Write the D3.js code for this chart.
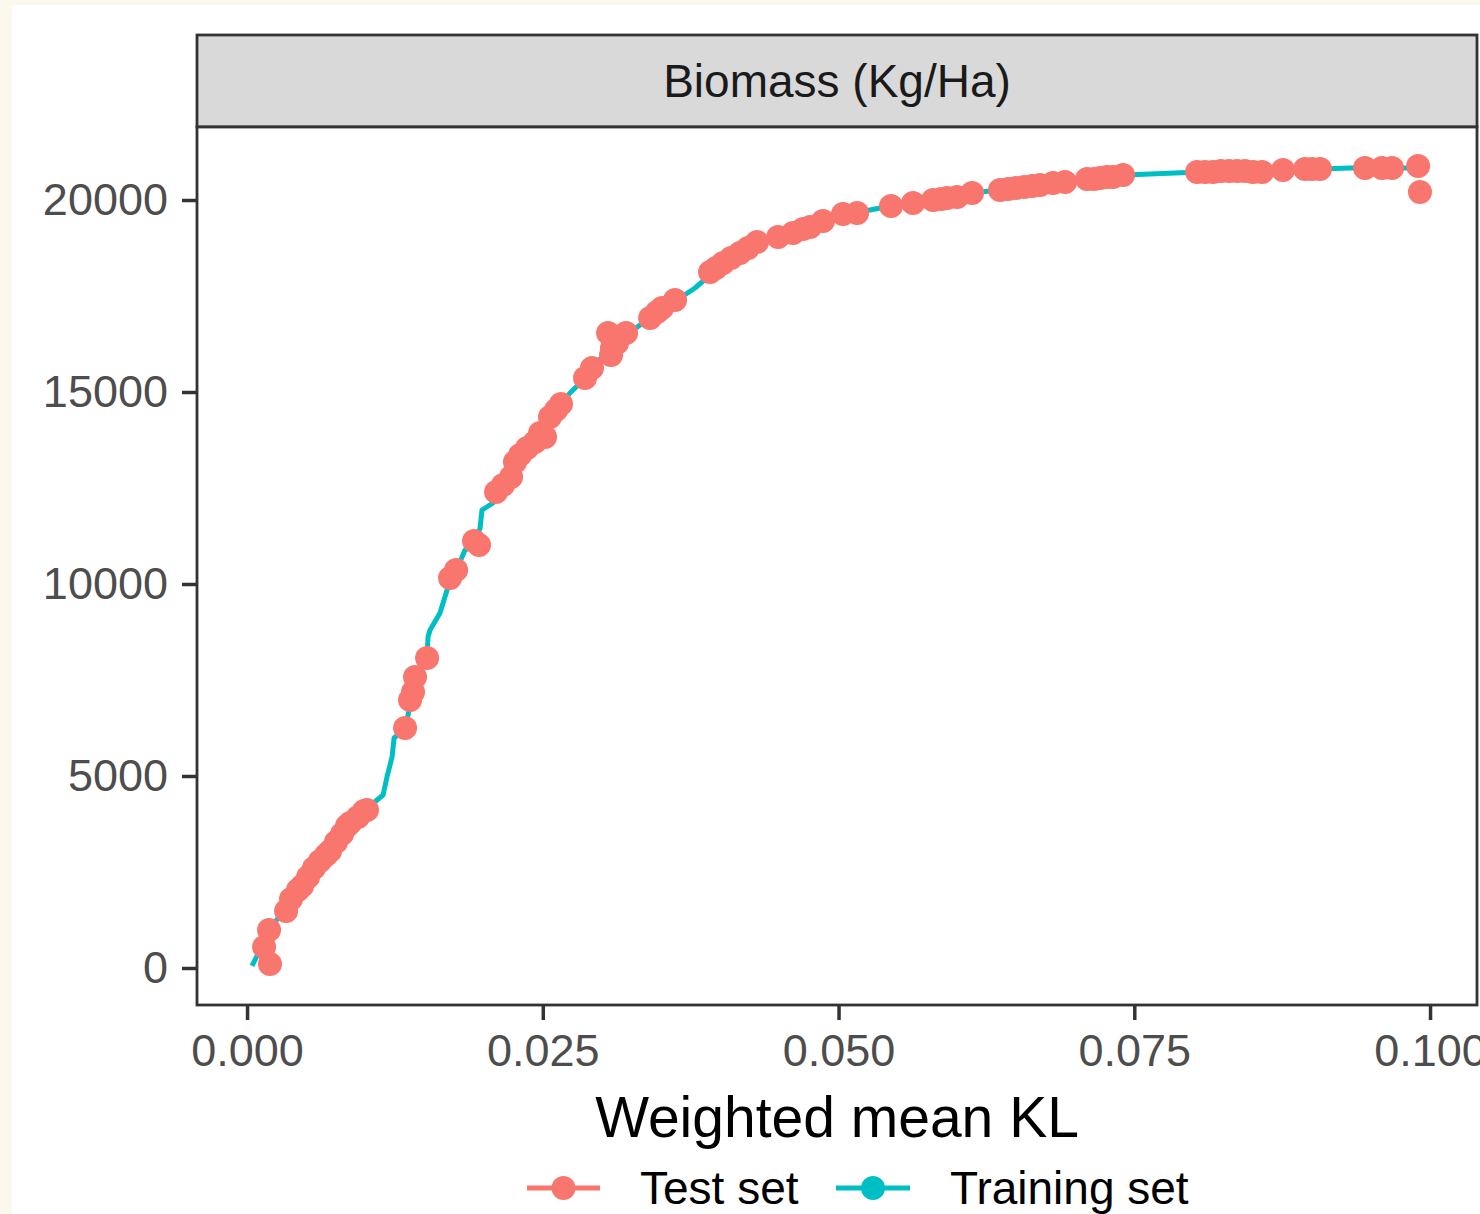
<!DOCTYPE html>
<html>
<head>
<meta charset="utf-8">
<script src="https://cdn.jsdelivr.net/npm/d3@7"></script>
<style>
  html, body { margin: 0; padding: 0; background: #FBF8EE; }
  svg { display: block; }
</style>
</head>
<body>
<script>
// ---------------- DATA ----------------
const panelTitle = "Biomass (Kg/Ha)";
const xTitle = "Weighted mean KL";
const seriesNames = ["Test set", "Training set"];
const xTicks = [0, 0.025, 0.05, 0.075, 0.1];
const yTicks = [0, 5000, 10000, 15000, 20000];

// Training set (line)
const trainX = [0.00042,0.00076,0.00127,0.00178,0.00237,0.00296,0.00363,0.00448,0.00533,0.00617,0.00702,0.00786,0.00871,0.00955,0.01040,0.01099,0.01150,0.01183,0.01226,0.01243,0.01293,0.01344,0.01378,0.01412,0.01462,0.01522,0.01530,0.01547,0.01631,0.01657,0.01691,0.01733,0.01784,0.01843,0.01919,0.01970,0.01986,0.02079,0.02139,0.02223,0.02308,0.02392,0.02477,0.02561,0.02646,0.02730,0.02815,0.02899,0.02984,0.03085,0.03195,0.03322,0.03423,0.03533,0.03660,0.03787,0.03914,0.04041,0.04167,0.04311,0.04463,0.04615,0.04759,0.04886,0.05055,0.05182,0.05309,0.05444,0.05630,0.05816,0.06002,0.06129,0.06281,0.06450,0.06619,0.06788,0.06957,0.07126,0.07295,0.07422,0.07633,0.07844,0.08056,0.08309,0.08563,0.08817,0.09070,0.09324,0.09577,0.09789,0.09899];
const trainY = [52,260,573,859,1198,1432,1719,2057,2396,2734,3073,3411,3750,4010,4219,4375,4505,4974,5495,5990,6120,6328,6849,7370,7760,8151,8620,8802,9245,9505,9844,10260,10469,10885,11015,11458,11927,12109,12448,12760,13229,13568,13932,14323,14661,14974,15234,15573,15859,16094,16458,16745,16927,17187,17448,17708,18047,18333,18594,18880,19036,19167,19297,19453,19635,19687,19766,19844,19922,20026,20078,20182,20234,20312,20364,20443,20495,20547,20599,20651,20677,20703,20729,20755,20781,20807,20807,20833,20833,20833,20859];

// Test set (points)
const testX = [0.00144,0.00194,0.00186,0.00330,0.00372,0.00431,0.00465,0.00516,0.00566,0.00617,0.00668,0.00702,0.00752,0.00803,0.00845,0.00871,0.00938,0.00989,0.01014,
  0.01336,0.01378,0.01403,0.01420,0.01522,0.01716,0.01767,0.01919,0.01961,0.02105,0.02164,0.02232,0.02265,0.02308,0.02367,0.02434,0.02477,0.02519,0.02561,0.02612,0.02654,
  0.02857,0.02916,0.03077,0.03128,0.03052,0.03204,0.03085,0.03407,0.03466,0.03508,0.03618,
  0.03914,0.03964,0.04024,0.04091,0.04167,0.04235,0.04311,0.04489,0.04615,0.04700,0.04759,0.04869,0.05038,0.05157,
  0.05444,0.05630,0.05799,0.05867,0.05917,0.06002,0.06129,0.06365,0.06433,0.06500,0.06568,0.06636,0.06703,0.06813,0.06915,
  0.07101,0.07160,0.07211,0.07270,0.07320,0.07405,
  0.08031,0.08098,0.08166,0.08233,0.08301,0.08369,0.08436,0.08504,0.08580,0.08757,0.08943,0.09003,0.09070,0.09450,0.09594,0.09679,0.09899,0.09915];
const testY = [547,104,990,1484,1797,2031,2135,2370,2604,2786,2943,3047,3281,3490,3698,3776,3932,4088,4115,
  6250,6979,7187,7578,8073,10156,10365,11120,11015,12396,12578,12786,13177,13359,13542,13698,13932,13828,14349,14531,14688,
  15365,15625,15963,16276,16536,16536,16146,16927,17083,17187,17396,
  18125,18229,18359,18490,18620,18750,18906,19036,19141,19245,19297,19453,19635,19661,
  19844,19922,20000,20026,20052,20078,20182,20260,20286,20312,20338,20364,20390,20443,20468,
  20547,20547,20573,20599,20599,20651,
  20729,20729,20729,20755,20755,20755,20755,20729,20729,20781,20807,20807,20807,20833,20833,20833,20885,20208];

const colors = {"Test set": "#F8766D", "Training set": "#00BFC4"};

// ---------------- LAYOUT ----------------
const W = 1480, H = 1214;
const panel = {left: 197, right: 1477, top: 127, bottom: 1005};
const strip = {top: 35, bottom: 127};

const svg = d3.select("body").append("svg").attr("width", W).attr("height", H);

// background
svg.append("rect").attr("x", 0).attr("y", 0).attr("width", W).attr("height", H).attr("fill", "#FBF8EE");
svg.append("rect").attr("x", 12).attr("y", 5).attr("width", W - 12).attr("height", H - 5).attr("fill", "#FFFFFF");

const x = d3.scaleLinear().domain([-0.00423, 0.10397]).range([panel.left, panel.right]);
const y = d3.scaleLinear().domain([-964, 21901]).range([panel.bottom, panel.top]);

const font = "'Liberation Sans', Arial, Helvetica, sans-serif";

// strip
svg.append("rect")
  .attr("x", panel.left).attr("y", strip.top)
  .attr("width", panel.right - panel.left).attr("height", strip.bottom - strip.top)
  .attr("fill", "#D9D9D9").attr("stroke", "#333333").attr("stroke-width", 2.8);
svg.append("text")
  .attr("x", (panel.left + panel.right) / 2).attr("y", (strip.top + strip.bottom) / 2)
  .attr("dy", "0.35em").attr("text-anchor", "middle")
  .attr("font-family", font).attr("font-size", 46).attr("fill", "#1A1A1A")
  .text(panelTitle);

// panel background
svg.append("rect")
  .attr("x", panel.left).attr("y", panel.top)
  .attr("width", panel.right - panel.left).attr("height", panel.bottom - panel.top)
  .attr("fill", "#FFFFFF");

// clip
svg.append("clipPath").attr("id", "clip").append("rect")
  .attr("x", panel.left).attr("y", panel.top)
  .attr("width", panel.right - panel.left).attr("height", panel.bottom - panel.top);

const g = svg.append("g").attr("clip-path", "url(#clip)");

// training line
const trainData = trainX.map((v, i) => ({x: v, y: trainY[i]}));
g.append("path")
  .datum(trainData)
  .attr("fill", "none")
  .attr("stroke", colors["Training set"])
  .attr("stroke-width", 5)
  .attr("stroke-linejoin", "round")
  .attr("d", d3.line().x(d => x(d.x)).y(d => y(d.y)));

// test points
const testData = testX.map((v, i) => ({x: v, y: testY[i]}));
g.selectAll("circle.test")
  .data(testData).enter().append("circle")
  .attr("class", "test")
  .attr("cx", d => x(d.x)).attr("cy", d => y(d.y))
  .attr("r", 12)
  .attr("fill", colors["Test set"]);

// panel border
svg.append("rect")
  .attr("x", panel.left).attr("y", panel.top)
  .attr("width", panel.right - panel.left).attr("height", panel.bottom - panel.top)
  .attr("fill", "none").attr("stroke", "#333333").attr("stroke-width", 2.8);

// axes
const xAxis = d3.axisBottom(x).tickValues(xTicks).tickFormat(d3.format(".3f")).tickSize(14).tickPadding(14);
const xg = svg.append("g").attr("transform", `translate(0,${panel.bottom + 1})`).call(xAxis);
xg.select(".domain").remove();
xg.selectAll(".tick line").attr("stroke", "#333333").attr("stroke-width", 3.5);
xg.selectAll(".tick text").attr("font-family", font).attr("font-size", 45).attr("fill", "#4D4D4D");

const yAxis = d3.axisLeft(y).tickValues(yTicks).tickFormat(d3.format("d")).tickSize(14).tickPadding(14);
const yg = svg.append("g").attr("transform", `translate(${panel.left - 1},0)`).call(yAxis);
yg.select(".domain").remove();
yg.selectAll(".tick line").attr("stroke", "#333333").attr("stroke-width", 3.5);
yg.selectAll(".tick text").attr("font-family", font).attr("font-size", 45).attr("fill", "#4D4D4D");

// x title
svg.append("text")
  .attr("x", (panel.left + panel.right) / 2).attr("y", 1137)
  .attr("text-anchor", "middle")
  .attr("font-family", font).attr("font-size", 57).attr("fill", "#000000")
  .text(xTitle);

// legend
const legendItems = [
  {name: seriesNames[0], x0: 527, x1: 600, tx: 640},
  {name: seriesNames[1], x0: 836, x1: 910, tx: 950}
];
const ly = 1188;
const lg = svg.append("g");
legendItems.forEach(it => {
  lg.append("line").attr("x1", it.x0).attr("x2", it.x1).attr("y1", ly).attr("y2", ly)
    .attr("stroke", colors[it.name]).attr("stroke-width", 5);
  lg.append("circle").attr("cx", (it.x0 + it.x1) / 2).attr("cy", ly).attr("r", 12)
    .attr("fill", colors[it.name]);
  lg.append("text").attr("x", it.tx).attr("y", ly).attr("dy", "0.35em")
    .attr("font-family", font).attr("font-size", 46).attr("fill", "#000000")
    .text(it.name);
});
</script>
</body>
</html>
